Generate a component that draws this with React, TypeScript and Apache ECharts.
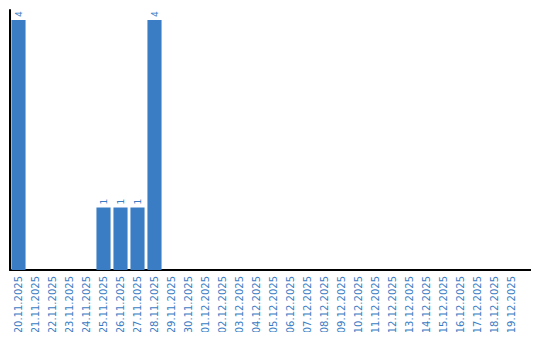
import React, { useEffect, useRef } from "react";
import * as echarts from "echarts";

const categories = [
  "20.11.2025", "21.11.2025", "22.11.2025", "23.11.2025", "24.11.2025",
  "25.11.2025", "26.11.2025", "27.11.2025", "28.11.2025", "29.11.2025",
  "30.11.2025", "01.12.2025", "02.12.2025", "03.12.2025", "04.12.2025",
  "05.12.2025", "06.12.2025", "07.12.2025", "08.12.2025", "09.12.2025",
  "10.12.2025", "11.12.2025", "12.12.2025", "13.12.2025", "14.12.2025",
  "15.12.2025", "16.12.2025", "17.12.2025", "18.12.2025", "19.12.2025",
];
const values = [
  4, 0, 0, 0, 0,
  1, 1, 1, 4, 0,
  0, 0, 0, 0, 0,
  0, 0, 0, 0, 0,
  0, 0, 0, 0, 0,
  0, 0, 0, 0, 0,
];

const BLUE = "#3a7dc4";

export default function App() {
  const ref = useRef<HTMLDivElement>(null);
  useEffect(() => {
    if (!ref.current) return;
    const chart = echarts.init(ref.current, null, { renderer: "svg" });
    chart.setOption({
      animation: false,
      grid: { left: 10, right: 20, top: 10, bottom: 70, containLabel: false },
      graphic: [
        {
          type: "line",
          shape: { x1: 519, y1: 270, x2: 531, y2: 270 },
          style: { stroke: "#000", lineWidth: 2 },
        },
      ],
      xAxis: {
        type: "category",
        data: categories,
        axisLine: { lineStyle: { color: "#000", width: 2 } },
        axisTick: { show: false },
        axisLabel: {
          rotate: 90,
          interval: 0,
          margin: 6,
          color: BLUE,
          fontFamily: "DejaVu Sans",
          fontSize: 10,
        },
      },
      yAxis: {
        type: "value",
        min: 0,
        max: 4.16,
        axisLine: { show: true, lineStyle: { color: "#000", width: 2 } },
        axisTick: { show: false },
        axisLabel: { show: false },
        splitLine: { show: false },
      },
      series: [
        {
          type: "bar",
          data: values.map((v) => (v === 0 ? null : v)),
          barCategoryGap: "17%",
          itemStyle: { color: BLUE },
          label: {
            show: true,
            position: "top",
            rotate: 90,
            align: "left",
            verticalAlign: "middle",
            distance: 3,
            color: BLUE,
            fontFamily: "DejaVu Sans",
            fontSize: 9,
          },
        },
      ],
    });
    return () => chart.dispose();
  }, []);
  return <div ref={ref} style={{ width: 540, height: 340, margin: -8 }} />;
}
